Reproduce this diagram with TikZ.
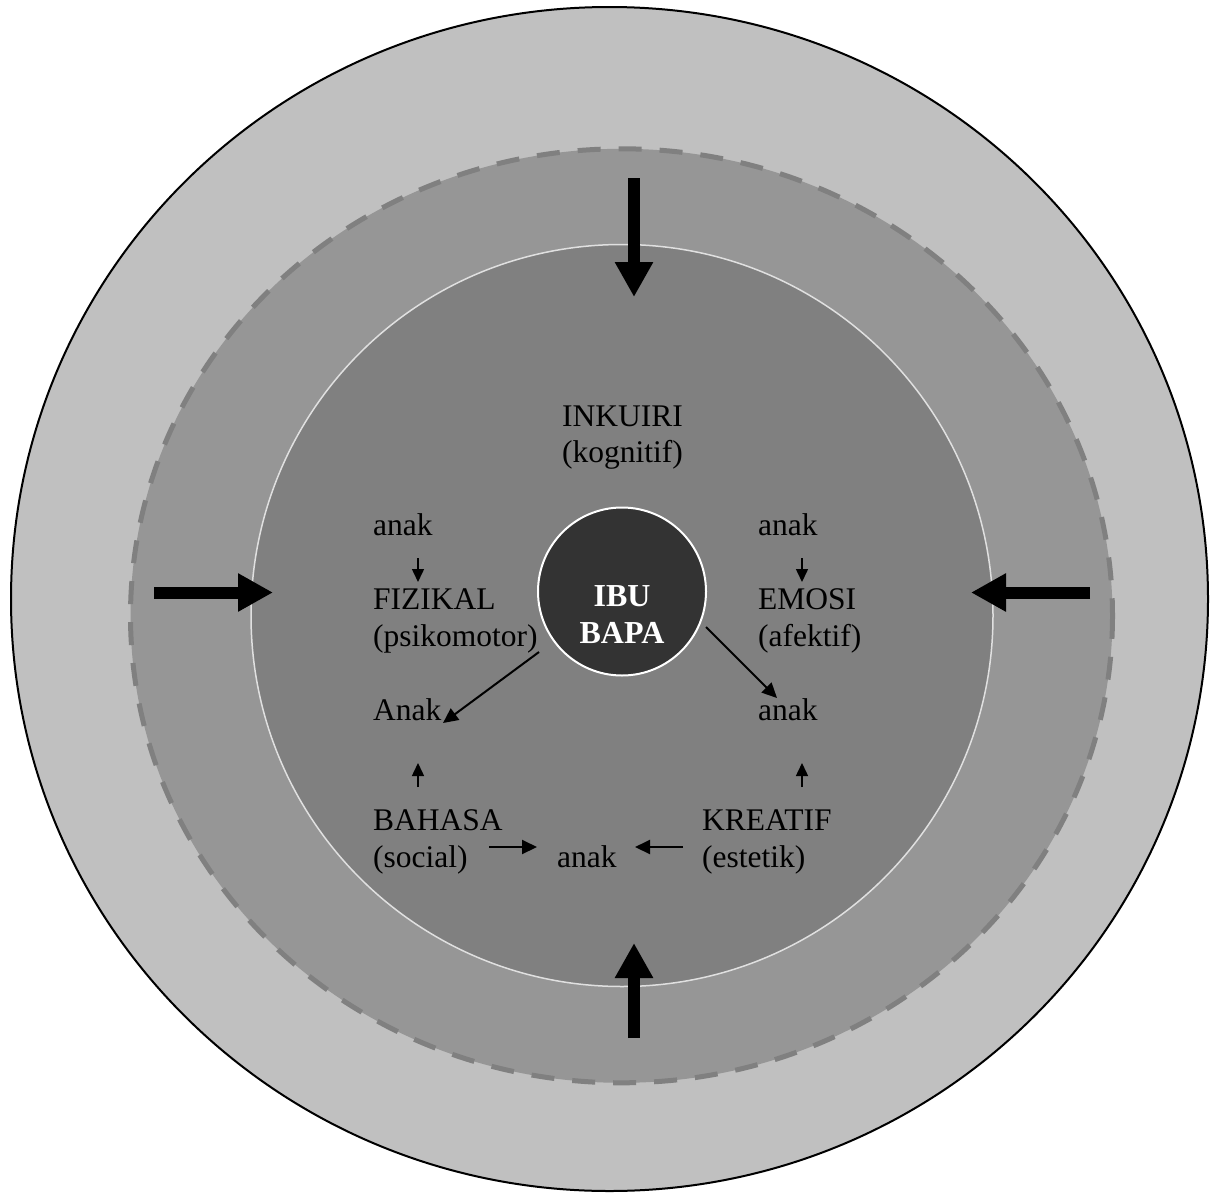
\documentclass[tikz,border=0pt]{standalone}
\usepackage{fontspec}
\setmainfont{Liberation Serif}
\usetikzlibrary{arrows.meta}
\definecolor{outerc}{HTML}{C0C0C0}
\definecolor{midc}{HTML}{969696}
\definecolor{innerc}{HTML}{808080}
\definecolor{corec}{HTML}{333333}
\definecolor{dashc}{HTML}{808080}
\definecolor{rimc}{HTML}{E0E0E0}
\tikzset{
  lbl/.style={anchor=base west,inner sep=0pt,font=\fontsize{31.5}{37}\selectfont},
  lblc/.style={anchor=base,inner sep=0pt,font=\fontsize{31.5}{37}\selectfont},
  corelbl/.style={anchor=base,inner sep=0pt,text=white,font=\bfseries\fontsize{32}{37}\selectfont},
  bigarrow/.style={line width=12pt,-{Triangle[length=35pt,width=36pt]}},
  midarrow/.style={line width=2pt,-{Triangle[length=15pt,width=14pt]}},
  smallarrow/.style={line width=1.5pt,-{Triangle[length=13pt,width=12pt]}}
}
\begin{document}
\begin{tikzpicture}[x=1pt,y=-1pt]
\useasboundingbox (0,0) rectangle (1213,1194);
% rings
\draw[line width=2pt,fill=outerc] (609.5,599) ellipse [x radius=598.5,y radius=592];
\fill[midc] (621.5,615.8) ellipse [x radius=491,y radius=467];
\draw[dashc,line width=5pt,dash pattern=on 23pt off 18pt] (621.5,615.8) ellipse [x radius=491,y radius=467];
\draw[rimc,line width=1.5pt,fill=innerc] (622,615.5) circle [radius=371];
% core
\node[circle,draw=white,line width=2pt,fill=corec,minimum size=168pt,inner sep=0pt] (core) at (622,591.5) {};
\node[corelbl] (ibu) at (622,606) {IBU};
\node[corelbl] (bapa) at (622,643) {BAPA};
% big arrows
\coordinate (tA) at (634,178); \coordinate (tB) at (634,297);
\coordinate (bA) at (634,1038); \coordinate (bB) at (634,943);
\coordinate (lA) at (154,592.5); \coordinate (lB) at (273,592.5);
\coordinate (rA) at (1090,592.5); \coordinate (rB) at (971,592.5);
\draw[bigarrow] (tA) -- (tB);
\draw[bigarrow] (bA) -- (bB);
\draw[bigarrow] (lA) -- (lB);
\draw[bigarrow] (rA) -- (rB);
% texts
\node[lblc] (ink1) at (622.5,426) {INKUIRI};
\node[lblc] (ink2) at (622.5,462) {(kognitif)};
\node[lbl] (anakFL) at (373,535) {anak};
\node[lbl] (fiz1) at (373,609) {FIZIKAL};
\node[lbl] (fiz2) at (373,646) {(psikomotor)};
\node[lbl] (anakL) at (373,720) {Anak};
\node[lbl] (bah1) at (373,830) {BAHASA};
\node[lbl] (bah2) at (373,867) {(social)};
\node[lbl] (anakER) at (758,535) {anak};
\node[lbl] (emo1) at (758,609) {EMOSI};
\node[lbl] (emo2) at (758,646) {(afektif)};
\node[lbl] (anakR) at (758,720) {anak};
\node[lbl] (kre1) at (702,830) {KREATIF};
\node[lbl] (kre2) at (702,867) {(estetik)};
\node[lbl] (anakB) at (557,867) {anak};
% small arrows
\coordinate (s1a) at (418,558); \coordinate (s1b) at (418,582);
\coordinate (s2a) at (802,558); \coordinate (s2b) at (802,582);
\coordinate (s3a) at (418,787); \coordinate (s3b) at (418,763);
\coordinate (s4a) at (802,787); \coordinate (s4b) at (802,763);
\draw[smallarrow] (s1a) -- (s1b);
\draw[smallarrow] (s2a) -- (s2b);
\draw[smallarrow] (s3a) -- (s3b);
\draw[smallarrow] (s4a) -- (s4b);
% medium arrows
\coordinate (h1a) at (489,847); \coordinate (h1b) at (537,847);
\coordinate (h2a) at (683,847); \coordinate (h2b) at (635,847);
\coordinate (d1a) at (539,652); \coordinate (d1b) at (443,723);
\coordinate (d2a) at (706,627); \coordinate (d2b) at (777,698);
\draw[midarrow] (h1a) -- (h1b);
\draw[midarrow] (h2a) -- (h2b);
\draw[midarrow] (d1a) -- (d1b);
\draw[midarrow] (d2a) -- (d2b);
\end{tikzpicture}
\end{document}
